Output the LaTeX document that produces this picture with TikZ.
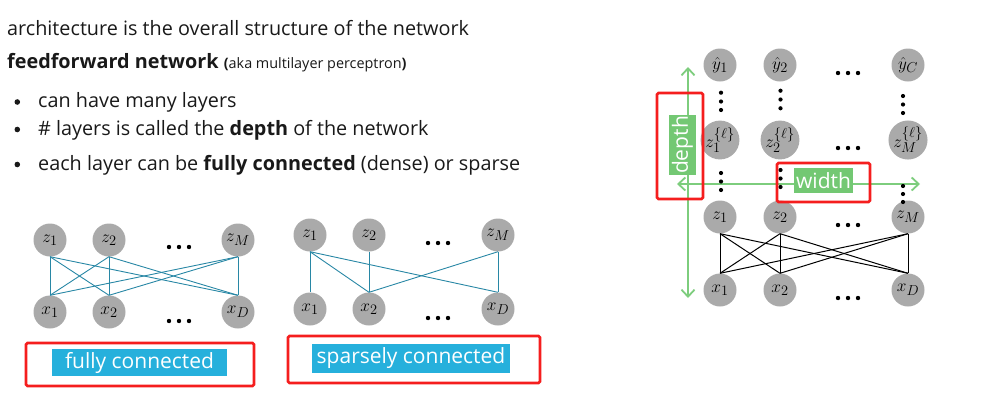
\documentclass[tikz,border=0pt]{standalone}
\usepackage{fontspec}
\setmainfont{Open Sans}
\usetikzlibrary{arrows.meta}
\definecolor{nodegray}{RGB}{170,170,170}
\definecolor{edgeteal}{RGB}{40,135,165}
\definecolor{labcyan}{RGB}{38,176,220}
\definecolor{boxred}{RGB}{245,30,30}
\definecolor{arrgreen}{RGB}{125,205,125}
\definecolor{labgreen}{RGB}{115,200,115}
\definecolor{txtcol}{RGB}{25,25,25}
\begin{document}
\begin{tikzpicture}[x=1pt,y=-1pt,
  nd/.style={circle,fill=nodegray,minimum size=33pt,inner sep=0pt,font=\fontsize{19}{19}\selectfont},
  txt/.style={anchor=base west,inner sep=0pt,text=txtcol,font=\fontsize{19.8}{20}\selectfont},
  fcedge/.style={draw=edgeteal,line width=0.9pt},
  blkedge/.style={draw=black,line width=1pt},
  cylab/.style={fill=labcyan,text=white,inner sep=0pt,font=\fontsize{21}{21}\selectfont},
  redbox/.style={draw=boxred,line width=2.6pt,rounded corners=1.5pt},
  garrow/.style={draw=arrgreen,line width=1.8pt,{Straight Barb[length=7pt,width=13pt]}-{Straight Barb[length=7pt,width=13pt]}},
  glab/.style={fill=labgreen,text=white,inner sep=0pt,font=\fontsize{21}{21}\selectfont}
]
\useasboundingbox (0,0) rectangle (983,416);

% ---------- text ----------
\node[txt] (l1) at (7,35) {architecture is the overall structure of the network};
\node[txt] (l2) at (7,68) {\textbf{feedforward network} {\fontsize{14.4}{14.4}\selectfont\textbf{(}aka multilayer perceptron\textbf{)}}};
\fill[txtcol] (17.3,102) circle (2.8pt);
\fill[txtcol] (17.3,129.5) circle (2.8pt);
\fill[txtcol] (17.3,164.5) circle (2.8pt);
\node[txt] (b1) at (38,107) {can have many layers};
\node[txt] (b2) at (38,135) {\# layers is called the \textbf{depth} of the network};
\node[txt] (b3) at (38,170) {each layer can be \textbf{fully connected} (dense) or sparse};

% ---------- fully connected ----------
\node[nd] (fz1) at (50,240) {$z_1$};
\node[nd] (fz2) at (109,240) {$z_2$};
\node[nd] (fzM) at (238,240) {$z_M$};
\node[nd] (fx1) at (50,312) {$x_1$};
\node[nd] (fx2) at (109,312) {$x_2$};
\node[nd] (fxD) at (238,312) {$x_D$};
\foreach \i in {-10,0,10} {\fill (179+\i,247) circle (2.2pt); \fill (179+\i,321) circle (2.2pt);}
\foreach \a in {fz1,fz2,fzM} \foreach \b in {fx1,fx2,fxD} \draw[fcedge] (\a.south) -- (\b.north);
\node[cylab,minimum width=175pt,minimum height=27pt] (fclab) at (139.5,362.5) {fully connected};
\draw[redbox] (26,343) rectangle (254,386);

% ---------- sparsely connected ----------
\node[nd] (sz1) at (310,235) {$z_1$};
\node[nd] (sz2) at (369,235) {$z_2$};
\node[nd] (szM) at (498,235) {$z_M$};
\node[nd] (sx1) at (310,309) {$x_1$};
\node[nd] (sx2) at (369,309) {$x_2$};
\node[nd] (sxD) at (498,309) {$x_D$};
\foreach \i in {-10,0,10} {\fill (438+\i,243) circle (2.2pt); \fill (438+\i,318) circle (2.2pt);}
\draw[fcedge] (sz1.south) -- (sx1.north);
\draw[fcedge] (sz1.south) -- (sx2.north);
\draw[fcedge] (sz1.south) -- (sxD.north);
\draw[fcedge] (sz2.south) -- (sx2.north);
\draw[fcedge] (szM.south) -- (sx2.north);
\draw[fcedge] (szM.south) -- (sxD.north);
\node[cylab,minimum width=198pt,minimum height=29pt] (sclab) at (411,358.5) {sparsely connected};
\draw[redbox] (288,336) rectangle (540,383);

% ---------- deep network ----------
\draw[garrow] (688,67) -- (688,298);
\draw[garrow] (677,184) -- (920,184);

\node[nd] (y1) at (720,65) {$\hat y_1$};
\node[nd] (y2) at (780,65) {$\hat y_2$};
\node[nd] (yC) at (908,65) {$\hat y_C$};
\node[nd] (l1n) at (720,140) {$z_1^{\{\ell\}}$};
\node[nd] (l2n) at (780,140) {$z_2^{\{\ell\}}$};
\node[nd] (lMn) at (908,140) {$z_M^{\{\ell\}}$};
\node[nd] (rz1) at (720,217) {$z_1$};
\node[nd] (rz2) at (780,217) {$z_2$};
\node[nd] (rzM) at (908,217) {$z_M$};
\node[nd] (rx1) at (720,290) {$x_1$};
\node[nd] (rx2) at (780,290) {$x_2$};
\node[nd] (rxD) at (908,290) {$x_D$};
\foreach \i in {-10,0,10} {
  \fill (848+\i,73) circle (2.2pt);
  \fill (848+\i,148) circle (2.2pt);
  \fill (848+\i,225) circle (2.2pt);
  \fill (848+\i,298) circle (2.2pt);}
\foreach \yy in {92.7,101.5,110} \fill (721,\yy) circle (2.1pt);
\foreach \yy in {90.7,99.5,108.3} \fill (780.5,\yy) circle (2.1pt);
\foreach \yy in {96,104.5,113} \fill (903,\yy) circle (2.1pt);
\foreach \yy in {173,181.5,190} \fill (721,\yy) circle (2.1pt);
\foreach \yy in {170,178.5,187} \fill (780.5,\yy) circle (2.1pt);
\foreach \yy in {186,194,202} \fill (903,\yy) circle (2.1pt);
\foreach \a in {rz1,rz2,rzM} \foreach \b in {rx1,rx2,rxD} \draw[blkedge] (\a.south) -- (\b.north);

\node[glab,minimum width=60pt,minimum height=27pt,rotate=90] (dlab) at (682.5,145) {depth};
\node[glab,minimum width=59pt,minimum height=25pt] (wlab) at (823.5,180.5) {width};
\draw[redbox] (657,93) rectangle (703,199);
\draw[redbox] (777,163) rectangle (870,202);
\end{tikzpicture}
\end{document}
